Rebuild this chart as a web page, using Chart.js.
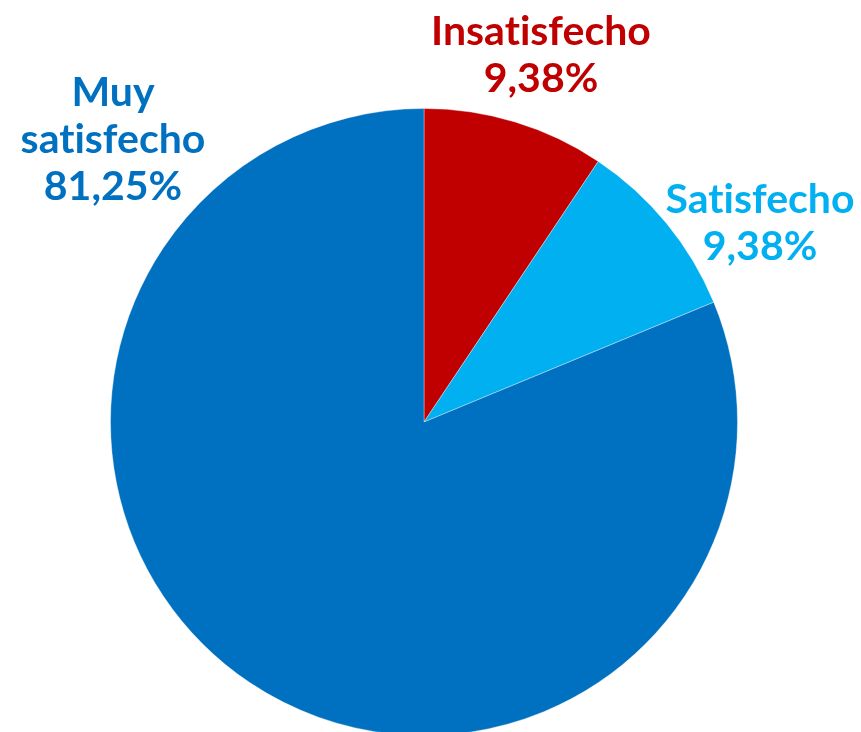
<!DOCTYPE html>
<html lang="es">
<head>
<meta charset="UTF-8">
<title>Satisfacción</title>
<script src="https://cdn.jsdelivr.net/npm/chart.js@4"></script>
<style>
  html, body { margin: 0; padding: 0; background: #fff; overflow: hidden; }
  #wrap { width: 861px; height: 740px; }
</style>
</head>
<body>
<div id="wrap"><canvas id="grafico_pie"></canvas></div>
<script>
  // datos
  const categorias = ['Insatisfecho', 'Satisfecho', 'Muy satisfecho'];
  const porcentajes = [9.38, 9.38, 81.25];
  const etiquetas = [['Insatisfecho', '9,38%'], ['Satisfecho', '9,38%'], ['Muy', 'satisfecho', '81,25%']];
  const colores = ['#C00000', '#00B0F0', '#0070C0'];

  // posición de cada etiqueta (centro de la primera línea)
  const posEtiquetas = [{ x: 541, y: 32 }, { x: 760, y: 200 }, { x: 113, y: 93 }];

  const sombra = (ctx, color) => {
    const arc = ctx.element;
    if (!arc || !arc.outerRadius) return color;
    const g = ctx.chart.ctx.createRadialGradient(arc.x, arc.y, 0, arc.x, arc.y, arc.outerRadius);
    g.addColorStop(0, color);
    g.addColorStop(0.92, color);
    g.addColorStop(1, shade(color, -0.22));
    return g;
  };

  function shade(hex, f) {
    const n = parseInt(hex.slice(1), 16);
    const r = Math.round(((n >> 16) & 255) * (1 + f));
    const g = Math.round(((n >> 8) & 255) * (1 + f));
    const b = Math.round((n & 255) * (1 + f));
    return 'rgb(' + r + ',' + g + ',' + b + ')';
  }

  const pluginEtiquetas = {
    id: 'etiquetas',
    afterDraw(chart) {
      const c = chart.ctx;
      c.save();
      c.font = 'bold 41px Lato';
      c.letterSpacing = '0.01px';
      c.textAlign = 'center';
      c.textBaseline = 'middle';
      etiquetas.forEach((lineas, i) => {
        c.fillStyle = colores[i];
        lineas.forEach((t, j) => {
          c.fillText(t, posEtiquetas[i].x, posEtiquetas[i].y + j * 47);
        });
      });
      c.restore();
    }
  };

  new Chart(document.getElementById('grafico_pie'), {
    type: 'pie',
    data: {
      labels: categorias,
      datasets: [{
        data: porcentajes,
        backgroundColor: (ctx) => sombra(ctx, colores[ctx.dataIndex]),
        borderColor: 'rgba(255,255,255,0.35)',
        borderWidth: 1
      }]
    },
    options: {
      responsive: true,
      maintainAspectRatio: false,
      animation: false,
      layout: { padding: { top: 108, bottom: 4, left: 110, right: 123 } },
      plugins: {
        legend: { display: false },
        tooltip: { enabled: false }
      }
    },
    plugins: [pluginEtiquetas]
  });
</script>
</body>
</html>
